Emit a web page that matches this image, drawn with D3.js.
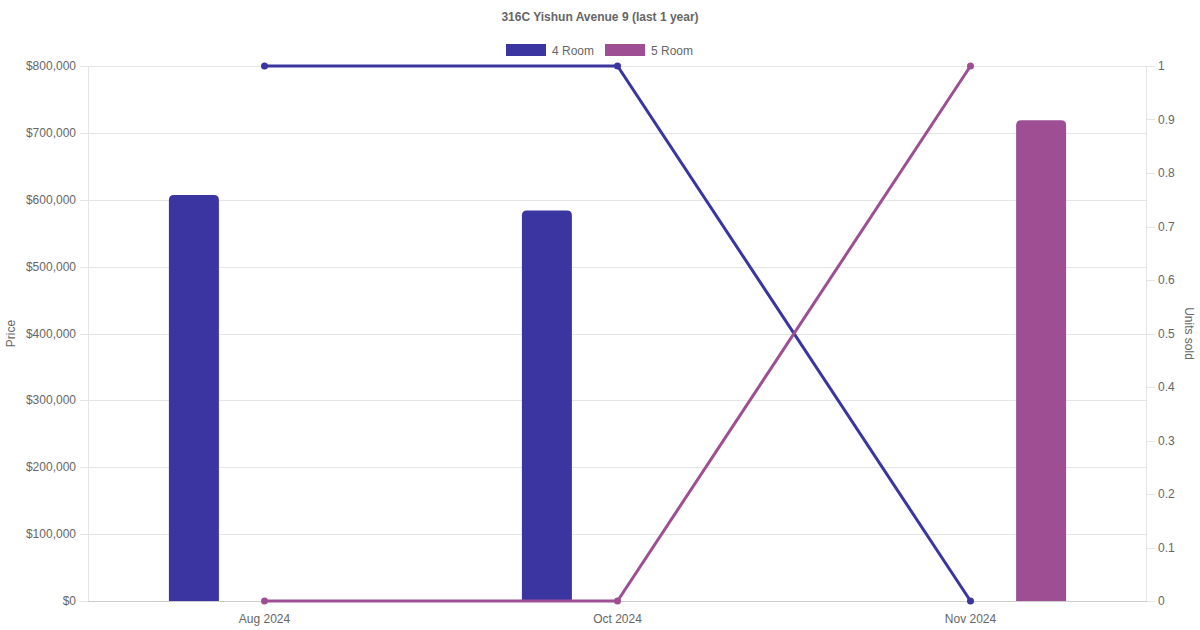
<!DOCTYPE html>
<html>
<head>
<meta charset="utf-8">
<title>316C Yishun Avenue 9</title>
<script src="https://cdn.jsdelivr.net/npm/d3@7"></script>
<style>
  body { margin: 0; background: #fff; }
  text { font-family: "Liberation Sans", Arial, sans-serif; fill: #666; }
</style>
</head>
<body>
<script>
var months = ["Aug 2024", "Oct 2024", "Nov 2024"];
var seriesNames = ["4 Room", "5 Room"];
var price4 = [607000, 584000, null];
var price5 = [null, null, 719000];
var units4 = [1, 1, 0];
var units5 = [0, 0, 1];
var priceTicks = [0, 100000, 200000, 300000, 400000, 500000, 600000, 700000, 800000];
var unitTicks = [0, 0.1, 0.2, 0.3, 0.4, 0.5, 0.6, 0.7, 0.8, 0.9, 1];
var colors = ["#3a35a0", "#9e4f94"];

var W = 1200, H = 630;
var margin = {top: 66, right: 53, bottom: 29, left: 88};
var width = W - margin.left - margin.right;
var height = H - margin.top - margin.bottom;

var svg = d3.select("body").append("svg")
  .attr("width", W).attr("height", H);

svg.append("text")
  .attr("x", W / 2).attr("y", 21)
  .attr("text-anchor", "middle")
  .style("font-size", "12px").style("font-weight", "bold")
  .text("316C Yishun Avenue 9 (last 1 year)");

// legend
var legend = svg.append("g");
var lx = [506, 605];
seriesNames.forEach(function(n, i) {
  legend.append("rect").attr("x", lx[i]).attr("y", 44).attr("width", 40).attr("height", 12)
    .attr("fill", colors[i]);
  legend.append("text").attr("x", lx[i] + 46).attr("y", 54.5)
    .style("font-size", "12px").text(n);
});

var g = svg.append("g").attr("transform", "translate(" + margin.left + "," + margin.top + ")");

var x = d3.scaleBand().domain(months).range([0, width]);
var x1 = d3.scaleBand().domain(seriesNames).range([x.bandwidth() * 0.1, x.bandwidth() * 0.9]);
var y = d3.scaleLinear().domain([0, 800000]).range([height, 0]);
var y2 = d3.scaleLinear().domain([0, 1]).range([height, 0]);

// gridlines
g.append("g").selectAll("line").data(priceTicks).enter().append("line")
  .attr("x1", -8).attr("x2", width)
  .attr("y1", function(d) { return Math.round(y(d)) + 0.5; })
  .attr("y2", function(d) { return Math.round(y(d)) + 0.5; })
  .attr("stroke", "#e5e5e5");
g.append("g").selectAll("line").data(unitTicks).enter().append("line")
  .attr("x1", width).attr("x2", width + 8)
  .attr("y1", function(d) { return Math.round(y2(d)) + 0.5; })
  .attr("y2", function(d) { return Math.round(y2(d)) + 0.5; })
  .attr("stroke", "#e5e5e5");
g.append("line").attr("x1", 0.5).attr("x2", 0.5).attr("y1", 0).attr("y2", height).attr("stroke", "#e5e5e5");
g.append("line").attr("x1", width - 0.5).attr("x2", width - 0.5).attr("y1", 0).attr("y2", height).attr("stroke", "#e5e5e5");
g.append("line").attr("x1", 0).attr("x2", width).attr("y1", height + 0.5).attr("y2", height + 0.5).attr("stroke", "#ccc");

// axis labels
g.append("g").selectAll("text").data(priceTicks).enter().append("text")
  .attr("x", -12).attr("y", function(d) { return y(d) + 4; })
  .attr("text-anchor", "end").style("font-size", "12px")
  .text(function(d) { return "$" + d3.format(",")(d); });
g.append("g").selectAll("text").data(unitTicks).enter().append("text")
  .attr("x", width + 11).attr("y", function(d) { return y2(d) + 4; })
  .style("font-size", "12px")
  .text(function(d) { return d3.format("~g")(d); });
g.append("g").selectAll("text").data(months).enter().append("text")
  .attr("x", function(d) { return x(d) + x.bandwidth() / 2; })
  .attr("y", height + 22)
  .attr("text-anchor", "middle").style("font-size", "12px")
  .text(function(d) { return d; });

svg.append("text").attr("transform", "translate(15," + (margin.top + height / 2) + ") rotate(-90)")
  .attr("text-anchor", "middle").style("font-size", "12px").text("Price");
svg.append("text").attr("transform", "translate(1185," + (margin.top + height / 2) + ") rotate(90)")
  .attr("text-anchor", "middle").style("font-size", "12px").text("Units sold");

// bars with rounded tops
function barPath(x0, w, yTop, yBot, r) {
  r = Math.min(r, w / 2, yBot - yTop);
  return "M" + x0 + "," + yBot + "V" + (yTop + r) +
    "Q" + x0 + "," + yTop + " " + (x0 + r) + "," + yTop +
    "H" + (x0 + w - r) +
    "Q" + (x0 + w) + "," + yTop + " " + (x0 + w) + "," + (yTop + r) +
    "V" + yBot + "Z";
}
var barW = 50;
[price4, price5].forEach(function(vals, si) {
  g.append("g").selectAll("path")
    .data(months.map(function(m, i) { return {m: m, v: vals[i]}; }).filter(function(d) { return d.v != null; }))
    .enter().append("path")
    .attr("d", function(d) {
      var cx = x(d.m) + x1(seriesNames[si]) + x1.bandwidth() / 2;
      return barPath(cx - barW / 2, barW, y(d.v), height, 5);
    })
    .attr("fill", colors[si]);
});

// lines
var line = d3.line()
  .x(function(d) { return x(d.m) + x.bandwidth() / 2; })
  .y(function(d) { return y2(d.v); });
[units4, units5].forEach(function(vals, si) {
  var pts = months.map(function(m, i) { return {m: m, v: vals[i]}; });
  g.append("path").datum(pts).attr("d", line)
    .attr("fill", "none").attr("stroke", colors[si]).attr("stroke-width", 3);
  g.append("g").selectAll("circle").data(pts).enter().append("circle")
    .attr("cx", function(d) { return x(d.m) + x.bandwidth() / 2; })
    .attr("cy", function(d) { return y2(d.v); })
    .attr("r", 3.5).attr("fill", colors[si]);
});
</script>
</body>
</html>
